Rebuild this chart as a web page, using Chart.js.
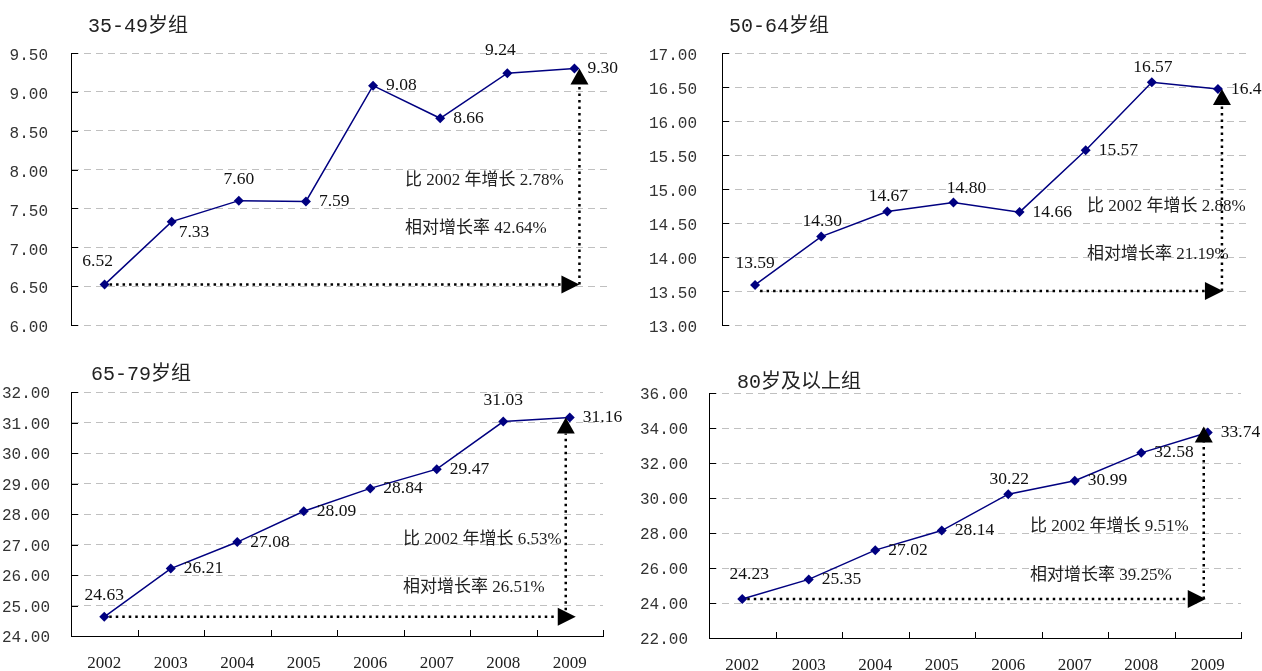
<!DOCTYPE html>
<html>
<head>
<meta charset="utf-8">
<script src="https://cdn.jsdelivr.net/npm/chart.js@4.4.1/dist/chart.umd.min.js"></script>
<style>
  html, body { margin: 0; padding: 0; background: #fff; }
  body { width: 1262px; height: 671px; position: relative; overflow: hidden; }
  canvas { position: absolute; display: block; }
</style>
</head>
<body>
<canvas id="c0" width="631" height="335" style="left:0;top:0"></canvas>
<canvas id="c1" width="631" height="335" style="left:631px;top:0"></canvas>
<canvas id="c2" width="631" height="336" style="left:0;top:335px"></canvas>
<canvas id="c3" width="631" height="336" style="left:631px;top:335px"></canvas>
<script>
// Years on the category axis
const years = ['2002', '2003', '2004', '2005', '2006', '2007', '2008', '2009'];
// Panel titles (age groups)
const groupNames = ['35-49岁组', '50-64岁组', '65-79岁组', '80岁及以上组'];
// Rate per age group, 2002-2009
const rate35to49 = [6.52, 7.33, 7.60, 7.59, 9.08, 8.66, 9.24, 9.30];
const rate50to64 = [13.59, 14.30, 14.67, 14.80, 14.66, 15.57, 16.57, 16.47];
const rate65to79 = [24.63, 26.21, 27.08, 28.09, 28.84, 29.47, 31.03, 31.16];
const rate80plus = [24.23, 25.35, 27.02, 28.14, 30.22, 30.99, 32.58, 33.74];
// Value-axis ranges
const axisMin = [6, 13, 24, 22];
const axisMax = [9.5, 17, 32, 36];
const axisStep = [0.5, 0.5, 1, 2];

const seriesList = [rate35to49, rate50to64, rate65to79, rate80plus];

// Where each value label sits relative to its marker
const labelSpots = [
  ['al', 'br', 'a', 'r', 'r', 'r', 'al', 'r'],
  ['a', 'a2', 'a2', 'ar', 'r', 'r', 'a2', 'r'],
  ['a', 'r', 'r', 'r', 'r', 'r', 'a', 'r'],
  ['au', 'r', 'r', 'r', 'a2', 'r', 'r', 'r']
];
const spotStyle = {
  r:  { align: 'left',   dx: 13, dy: 0 },
  a:  { align: 'center', dx: 0,  dy: -21 },
  a2: { align: 'center', dx: 1,  dy: -15 },
  al: { align: 'center', dx: -7, dy: -23 },
  ar: { align: 'center', dx: 13, dy: -14 },
  au: { align: 'center', dx: 7,  dy: -25 },
  br: { align: 'left',   dx: 7,  dy: 11 }
};

// Panel geometry (canvas-relative pixels)
const panels = [
  { yW: 71, padR: 23, padT: 53, padB: 10, showX: false, xH: 0, yPad: 23, yOff: 3,
    title: [88, 27], note: [405, 181, 229], vOff: 5, hTip: 0, vTipDy: 0, hDy: 0 },
  { yW: 91, padR: 11, padT: 53, padB: 10, showX: false, xH: 0, yPad: 25, yOff: 3,
    title: [98, 27], note: [456, 207, 255], vOff: 4, hTip: 1, vTipDy: 0, hDy: 6 },
  { yW: 71, padR: 28, padT: 57, padB: 0, showX: true, xH: 35, yPad: 21, yOff: 2,
    title: [91, 40], note: [403, 205, 253], vOff: -4, hTip: 10, vTipDy: 0, hDy: 0 },
  { yW: 78, padR: 21, padT: 58, padB: 0, showX: true, xH: 33, yPad: 21, yOff: 2,
    title: [106, 48], note: [399, 192, 241], vOff: -4, hTip: 2, vTipDy: -6, hDy: 0 }
];

const labelFont = '17.5px "Liberation Serif", "Noto Sans CJK SC", serif';
const noteFont = '17px "Liberation Serif", "Noto Sans CJK SC", serif';
const titleFont = '20px "Liberation Mono", "Noto Sans CJK SC", monospace';

function dottedLine(ctx, x1, y1, x2, y2) {
  ctx.save();
  ctx.strokeStyle = '#000';
  ctx.lineWidth = 2.5;
  ctx.setLineDash([2.5, 4]);
  ctx.beginPath();
  ctx.moveTo(x1, y1);
  ctx.lineTo(x2, y2);
  ctx.stroke();
  ctx.restore();
}

function triangle(ctx, pts) {
  ctx.save();
  ctx.fillStyle = '#000';
  ctx.beginPath();
  ctx.moveTo(pts[0][0], pts[0][1]);
  ctx.lineTo(pts[1][0], pts[1][1]);
  ctx.lineTo(pts[2][0], pts[2][1]);
  ctx.closePath();
  ctx.fill();
  ctx.restore();
}

function makePanel(i) {
  const L = panels[i];
  const data = seriesList[i];
  const first = data[0];
  const last = data[data.length - 1];
  const noteLines = [
    '比 ' + years[0] + ' 年增长 ' + (last - first).toFixed(2) + '%',
    '相对增长率 ' + ((last / first - 1) * 100).toFixed(2) + '%'
  ];

  const decorations = {
    id: 'decorations' + i,
    afterDatasetsDraw(chart) {
      const ctx = chart.ctx;
      const area = chart.chartArea;
      const xs = chart.scales.x;
      const ys = chart.scales.y;
      const pts = chart.getDatasetMeta(0).data;

      // inward tick marks on the value axis
      ctx.save();
      ctx.strokeStyle = '#000';
      ctx.lineWidth = 1;
      ys.ticks.forEach((t) => {
        const y = Math.round(ys.getPixelForValue(t.value)) + 0.5;
        ctx.beginPath();
        ctx.moveTo(area.left, y);
        ctx.lineTo(area.left + 7, y);
        ctx.stroke();
      });
      // inward tick marks between years on the category axis
      if (L.showX) {
        for (let k = 1; k <= years.length; k++) {
          const x = Math.round(xs.getPixelForValue(k - 0.5)) + 0.5;
          ctx.beginPath();
          ctx.moveTo(x, area.bottom);
          ctx.lineTo(x, area.bottom - 6);
          ctx.stroke();
        }
      }
      ctx.restore();

      // growth arrows: from the first year across, then up to the last value
      const baseY = ys.getPixelForValue(first) + L.hDy;
      const vx = pts[pts.length - 1].x + L.vOff;
      const tipX = vx + L.hTip;
      const topY = ys.getPixelForValue(last) + L.vTipDy;
      dottedLine(ctx, pts[0].x + 5, baseY, tipX - 18, baseY);
      triangle(ctx, [[tipX, baseY], [tipX - 18, baseY - 9], [tipX - 18, baseY + 9]]);
      dottedLine(ctx, vx, baseY, vx, topY + 16);
      triangle(ctx, [[vx, topY], [vx - 9, topY + 16], [vx + 9, topY + 16]]);

      // value labels
      ctx.save();
      ctx.font = labelFont;
      ctx.fillStyle = '#111';
      ctx.textBaseline = 'middle';
      pts.forEach((p, k) => {
        const s = spotStyle[labelSpots[i][k]];
        ctx.textAlign = s.align;
        ctx.fillText(data[k].toFixed(2), p.x + s.dx, p.y + s.dy);
      });
      ctx.restore();

      // growth notes
      ctx.save();
      ctx.font = noteFont;
      ctx.fillStyle = '#222';
      ctx.textBaseline = 'middle';
      ctx.textAlign = 'left';
      ctx.fillText(noteLines[0], L.note[0], L.note[1]);
      ctx.fillText(noteLines[1], L.note[0], L.note[2]);
      ctx.restore();

      // panel title
      ctx.save();
      ctx.font = titleFont;
      ctx.fillStyle = '#222';
      ctx.textBaseline = 'middle';
      ctx.textAlign = 'left';
      ctx.fillText(groupNames[i], L.title[0], L.title[1]);
      ctx.restore();
    }
  };

  return new Chart(document.getElementById('c' + i), {
    type: 'line',
    data: {
      labels: years,
      datasets: [{
        data: data,
        borderColor: '#000080',
        backgroundColor: '#000080',
        borderWidth: 1.5,
        tension: 0,
        pointStyle: 'rectRot',
        pointRadius: 5,
        pointHoverRadius: 5,
        pointBackgroundColor: '#000080',
        pointBorderColor: '#000080',
        pointBorderWidth: 0,
        clip: false
      }]
    },
    options: {
      responsive: false,
      animation: false,
      events: [],
      layout: { padding: { left: 0, right: L.padR, top: L.padT, bottom: L.padB } },
      plugins: {
        legend: { display: false },
        tooltip: { enabled: false },
        title: { display: false }
      },
      scales: {
        x: {
          type: 'category',
          offset: true,
          display: true,
          grid: { display: false, drawTicks: false },
          border: { display: L.showX, color: '#000', width: 1 },
          ticks: {
            display: L.showX,
            font: { family: 'Liberation Serif', size: 17 },
            color: '#222',
            padding: 17,
            maxRotation: 0,
            autoSkip: false
          },
          afterFit(s) {
            s.height = L.xH;
            s.paddingLeft = 0;
            s.paddingRight = 0;
          }
        },
        y: {
          min: axisMin[i],
          max: axisMax[i],
          ticks: {
            stepSize: axisStep[i],
            callback: (v) => Number(v).toFixed(2),
            font: { family: 'Liberation Mono', size: 16 },
            color: '#333',
            padding: L.yPad,
            labelOffset: L.yOff
          },
          grid: { color: '#c0c0c0', lineWidth: 1, drawTicks: false },
          border: { display: true, color: '#000', width: 1, dash: [7, 5] },
          afterFit(s) {
            s.width = L.yW;
            s.paddingTop = 0;
            s.paddingBottom = 0;
          }
        }
      }
    },
    plugins: [decorations]
  });
}

[0, 1, 2, 3].forEach(makePanel);
</script>
</body>
</html>
